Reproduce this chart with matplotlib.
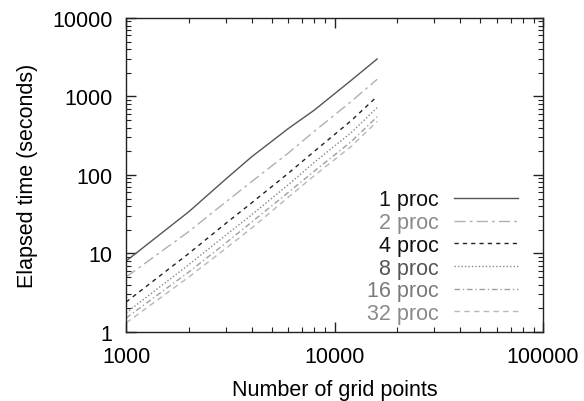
import matplotlib.pyplot as plt
from matplotlib.ticker import LogLocator, NullFormatter, FixedLocator, FixedFormatter

plt.rcParams['font.family'] = ['Liberation Sans', 'DejaVu Sans']

# data
grid_points = [1000, 2000, 3000, 4000, 6000, 8000, 12000, 16000]
t_1proc = [8.0, 34, 88, 170, 390, 670, 1600, 3000]
t_2proc = [5.0, 19, 45, 82, 190, 360, 860, 1650]
t_4proc = [2.4, 10, 24, 44, 105, 200, 490, 1000]
t_8proc = [1.75, 7.2, 17, 31, 75, 145, 345, 720]
t_16proc = [1.5, 5.8, 13.5, 25, 60, 112, 265, 550]
t_32proc = [1.3, 5.0, 11.5, 21, 52, 98, 230, 480]

series = [
    ('1 proc', t_1proc, '#555555', '-', '#111111'),
    ('2 proc', t_2proc, '#b0b0b0', (0, (8, 3, 2, 3)), '#8a8a8a'),
    ('4 proc', t_4proc, '#222222', (0, (3, 3)), '#111111'),
    ('8 proc', t_8proc, '#888888', (0, (1, 1.5)), '#555555'),
    ('16 proc', t_16proc, '#a0a0a0', (0, (4, 2, 1, 2)), '#7a7a7a'),
    ('32 proc', t_32proc, '#b8b8b8', (0, (4, 3)), '#8a8a8a'),
]

fig = plt.figure(figsize=(5.84, 4.02), dpi=100)
ax = fig.add_axes([0.216, 0.172, 0.714, 0.781])

for label, vals, col, ls, _ in series:
    ax.plot(grid_points, vals, color=col, linestyle=ls, linewidth=1.0, label=label)

ax.set_xscale('log')
ax.set_yscale('log')
ax.set_xlim(1000, 100000)
ax.set_ylim(1, 10000)

ax.xaxis.set_major_locator(FixedLocator([1000, 10000, 100000]))
ax.xaxis.set_major_formatter(FixedFormatter(['1000', '10000', '100000']))
ax.yaxis.set_major_locator(FixedLocator([1, 10, 100, 1000, 10000]))
ax.yaxis.set_major_formatter(FixedFormatter(['1', '10', '100', '1000', '10000']))
ax.xaxis.set_minor_locator(LogLocator(base=10, subs=range(2, 10)))
ax.yaxis.set_minor_locator(LogLocator(base=10, subs=range(2, 10)))
ax.xaxis.set_minor_formatter(NullFormatter())
ax.yaxis.set_minor_formatter(NullFormatter())

ax.tick_params(which='both', direction='in', top=True, right=True, color='#222222')
ax.tick_params(which='major', length=7, width=1.0, labelsize=15.5, pad=10)
ax.tick_params(which='minor', length=3.5, width=0.8)
for s in ax.spines.values():
    s.set_linewidth(1.0)
    s.set_color('#222222')

ax.set_xlabel('Number of grid points', fontsize=15.5, labelpad=9)
ax.set_ylabel('Elapsed time (seconds)', fontsize=15.5, labelpad=10)

leg = ax.legend(loc='lower right', bbox_to_anchor=(0.94, 0.025), markerfirst=False,
                frameon=False, fontsize=15.5, handlelength=3.0, labelspacing=0.08,
                handletextpad=0.7, borderaxespad=0.0, borderpad=0.0)
for txt, (_, _, _, _, tcol) in zip(leg.get_texts(), series):
    txt.set_color(tcol)

fig.savefig('out.png', dpi=100)
